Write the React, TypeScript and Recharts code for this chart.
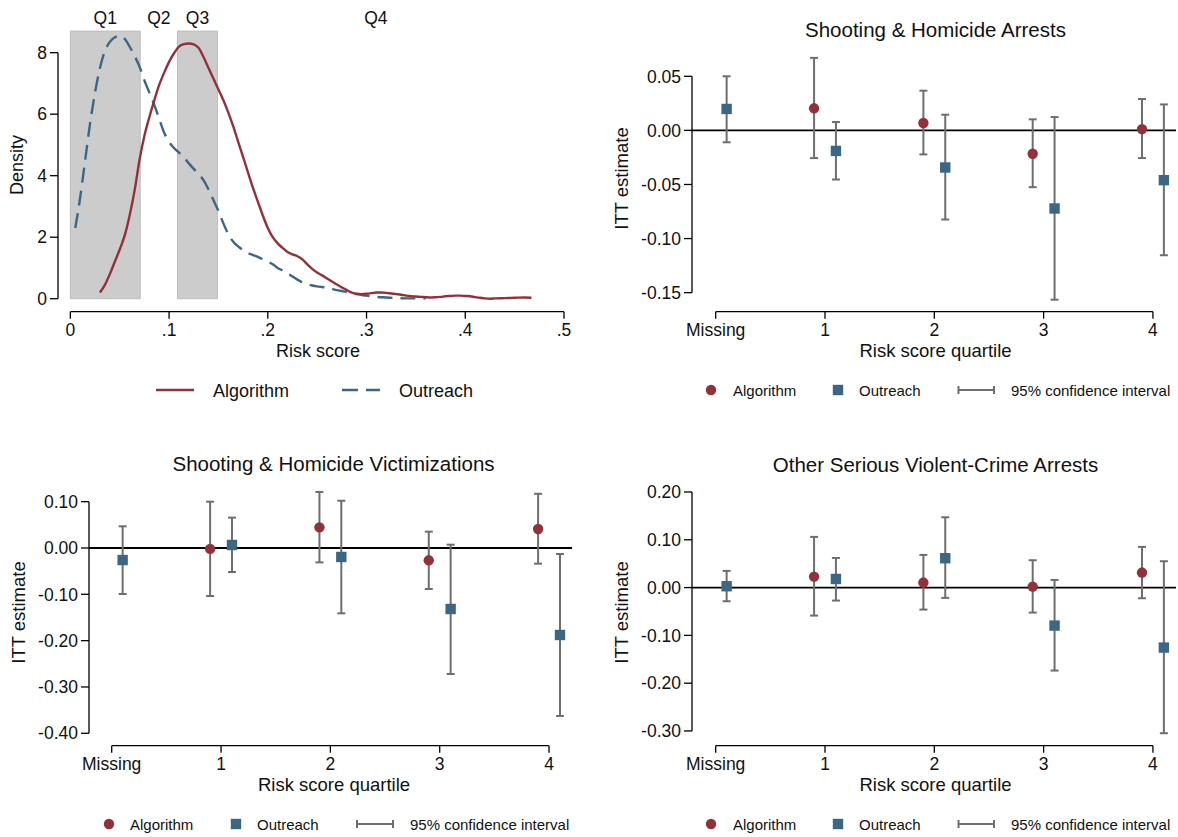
import React from 'react';
import {
  ScatterChart,
  Scatter,
  LineChart,
  Line,
  XAxis,
  YAxis,
  ErrorBar,
  ReferenceLine,
  ReferenceArea,
  Legend,
} from 'recharts';

const FONT = '"Liberation Sans", Arial, Helvetica, sans-serif';
const RED = '#93313A';
const BLUE = '#3B6784';
const CI_GRAY = '#6E6E6E';
const BAND_FILL = '#CCCCCC';
const BAND_STROKE = '#BDBDBD';
const INK = '#111111';

// ---------- Density panel data ----------
const algoRisk = [
  0.03, 0.035, 0.04, 0.045, 0.05, 0.055, 0.06, 0.065, 0.07, 0.075, 0.08, 0.085, 0.09, 0.095, 0.1,
  0.105, 0.11, 0.115, 0.12, 0.125, 0.13, 0.135, 0.14, 0.145, 0.15, 0.155, 0.16, 0.165, 0.17, 0.175,
  0.18, 0.185, 0.19, 0.195, 0.2, 0.205, 0.21, 0.215, 0.22, 0.225, 0.23, 0.235, 0.24, 0.245, 0.25,
  0.255, 0.26, 0.265, 0.27, 0.275, 0.28, 0.285, 0.29, 0.295, 0.3, 0.305, 0.31, 0.315, 0.32, 0.325,
  0.33, 0.335, 0.34, 0.345, 0.35, 0.355, 0.36, 0.365, 0.37, 0.375, 0.38, 0.385, 0.39, 0.395, 0.4,
  0.405, 0.41, 0.415, 0.42, 0.425, 0.43, 0.44, 0.45, 0.46, 0.467,
];
const algoDensity = [
  0.2, 0.45, 0.8, 1.2, 1.6, 2.05, 2.7, 3.5, 4.5, 5.3, 5.9, 6.45, 6.95, 7.35, 7.7,
  7.98, 8.2, 8.28, 8.3, 8.27, 8.15, 7.85, 7.5, 7.15, 6.8, 6.45, 6.05, 5.6, 5.1, 4.6,
  4.1, 3.6, 3.15, 2.7, 2.3, 2.0, 1.8, 1.65, 1.52, 1.44, 1.38, 1.28, 1.12, 0.97, 0.85,
  0.76, 0.66, 0.56, 0.46, 0.37, 0.28, 0.2, 0.16, 0.15, 0.16, 0.18, 0.2, 0.2, 0.19, 0.17,
  0.15, 0.13, 0.1, 0.08, 0.07, 0.06, 0.05, 0.04, 0.05, 0.06, 0.08, 0.09, 0.1, 0.1, 0.09,
  0.08, 0.05, 0.03, 0.01, 0.0, 0.01, 0.02, 0.03, 0.04, 0.03,
];
const outRisk = [
  0.005, 0.01, 0.015, 0.02, 0.025, 0.03, 0.035, 0.04, 0.045, 0.05, 0.055, 0.06, 0.065, 0.07, 0.075,
  0.08, 0.085, 0.09, 0.095, 0.1, 0.105, 0.11, 0.115, 0.12, 0.125, 0.13, 0.135, 0.14, 0.145, 0.15,
  0.155, 0.16, 0.165, 0.17, 0.175, 0.18, 0.185, 0.19, 0.195, 0.2, 0.205, 0.21, 0.215, 0.22, 0.225,
  0.23, 0.235, 0.24, 0.245, 0.25, 0.255, 0.26, 0.265, 0.27, 0.275, 0.28, 0.285, 0.29, 0.295, 0.3,
  0.31, 0.32, 0.33, 0.34, 0.35, 0.36,
];
const outDensity = [
  2.3, 3.3, 4.5, 5.7, 6.7, 7.5, 8.05, 8.35, 8.5, 8.55, 8.45, 8.2, 7.9, 7.55, 7.1,
  6.7, 6.3, 5.85, 5.4, 5.1, 4.9, 4.75, 4.6, 4.4, 4.22, 4.05, 3.85, 3.55, 3.2, 2.85,
  2.45, 2.1, 1.85, 1.7, 1.58, 1.48, 1.42, 1.36, 1.28, 1.2, 1.12, 1.0, 0.92, 0.83, 0.72,
  0.62, 0.53, 0.47, 0.43, 0.4, 0.38, 0.36, 0.32, 0.28, 0.25, 0.22, 0.18, 0.15, 0.12, 0.1,
  0.06, 0.04, 0.02, 0.01, 0.01, 0.01,
];
const riskTicks = [0, 0.1, 0.2, 0.3, 0.4, 0.5];
const riskTickLabels = ['0', '.1', '.2', '.3', '.4', '.5'];
const densityTicks = [0, 2, 4, 6, 8];
const quartileNames = ['Q1', 'Q2', 'Q3', 'Q4'];
const quartileEdges = [0, 0.0708, 0.1085, 0.149, 0.47];
const quartileShaded = [true, false, true, false];

// ---------- ITT panels data ----------
const categories = ['Missing', '1', '2', '3', '4'];

const arrestAlgoEst = [null, 0.0204, 0.0068, -0.0216, 0.0012];
const arrestAlgoLo = [null, -0.0256, -0.0222, -0.0525, -0.0256];
const arrestAlgoHi = [null, 0.067, 0.0367, 0.0102, 0.029];
const arrestOutEst = [0.0198, -0.019, -0.0343, -0.0722, -0.046];
const arrestOutLo = [-0.011, -0.0454, -0.0824, -0.1565, -0.1154];
const arrestOutHi = [0.05, 0.0077, 0.0145, 0.0123, 0.024];
const arrestTicks = [-0.15, -0.1, -0.05, 0, 0.05];

const victAlgoEst = [null, -0.002, 0.0446, -0.0266, 0.041];
const victAlgoLo = [null, -0.1036, -0.031, -0.0885, -0.0338];
const victAlgoHi = [null, 0.1, 0.121, 0.0353, 0.117];
const victOutEst = [-0.026, 0.0065, -0.0194, -0.1317, -0.1878];
const victOutLo = [-0.0993, -0.0518, -0.141, -0.272, -0.3626];
const victOutHi = [0.0468, 0.0655, 0.102, 0.0072, -0.013];
const victTicks = [-0.4, -0.3, -0.2, -0.1, 0, 0.1];

const otherAlgoEst = [null, 0.023, 0.0105, 0.002, 0.0314];
const otherAlgoLo = [null, -0.0586, -0.046, -0.0523, -0.0223];
const otherAlgoHi = [null, 0.106, 0.0683, 0.0572, 0.0851];
const otherOutEst = [0.0028, 0.018, 0.0614, -0.0795, -0.1255];
const otherOutLo = [-0.0286, -0.0272, -0.0216, -0.1736, -0.3047];
const otherOutHi = [0.0349, 0.062, 0.1471, 0.016, 0.0551];
const otherTicks = [-0.3, -0.2, -0.1, 0, 0.1, 0.2];

const SHIFT = 0.1;

function buildSeries(est: (number | null)[], lo: (number | null)[], hi: (number | null)[], shift: number) {
  const out: { x: number; y: number; err: [number, number] }[] = [];
  est.forEach((e, i) => {
    if (e == null) return;
    out.push({ x: i + shift, y: e, err: [e - (lo[i] as number), (hi[i] as number) - e] });
  });
  return out;
}

const CircleShape = (props: any) =>
  props.cx == null ? null : <circle cx={props.cx} cy={props.cy} r={5.2} fill={RED} />;
const SquareShape = (props: any) =>
  props.cx == null ? null : (
    <rect x={props.cx - 5.2} y={props.cy - 5.2} width={10.4} height={10.4} fill={BLUE} />
  );

type LegendPos = { circle: number; algoText: number; square: number; outText: number; ci1: number; ci2: number; ciText: number };

const IttLegend = ({ pos, width }: { pos: LegendPos; width: number }) => (
  <svg width={width} height={30} style={{ display: 'block', overflow: 'visible' }}>
    <circle cx={pos.circle} cy={15} r={5.2} fill={RED} />
    <text x={pos.algoText} y={21} fontSize={15} fontFamily={FONT} fill={INK}>Algorithm</text>
    <rect x={pos.square - 5.2} y={15 - 5.2} width={10.4} height={10.4} fill={BLUE} />
    <text x={pos.outText} y={21} fontSize={15} fontFamily={FONT} fill={INK}>Outreach</text>
    <line x1={pos.ci1} y1={15} x2={pos.ci2} y2={15} stroke={CI_GRAY} strokeWidth={2} />
    <line x1={pos.ci1} y1={11} x2={pos.ci1} y2={19} stroke={CI_GRAY} strokeWidth={2} />
    <line x1={pos.ci2} y1={11} x2={pos.ci2} y2={19} stroke={CI_GRAY} strokeWidth={2} />
    <text x={pos.ciText} y={21} fontSize={15} fontFamily={FONT} fill={INK}>95% confidence interval</text>
  </svg>
);

type IttProps = {
  left: number;
  top: number;
  width: number;
  height: number;
  plotLeft: number;
  plotRight: number;
  plotTop: number;
  plotBottom: number;
  xDomain: [number, number];
  yDomain: [number, number];
  yTicks: number[];
  title: string;
  titleX: number;
  titleY: number;
  yLabelX: number;
  yLabelY: number;
  xLabelX: number;
  xLabelY: number;
  legendTop: number;
  legendPos: LegendPos;
  algo: { x: number; y: number; err: [number, number] }[];
  outreach: { x: number; y: number; err: [number, number] }[];
};

const X_AXIS_H = 60;

function IttPanel(p: IttProps) {
  const yMin = p.yDomain[0];
  const xMin = p.xDomain[0];
  const yTop = p.yTicks[p.yTicks.length - 1];
  const yBot = p.yTicks[0];
  return (
    <div style={{ position: 'absolute', left: p.left, top: p.top, width: p.width, height: p.height }}>
      <ScatterChart
        width={p.width}
        height={p.height}
        margin={{
          top: p.plotTop,
          right: p.width - p.plotRight,
          bottom: p.height - p.plotBottom - X_AXIS_H,
          left: 0,
        }}
      >
        <XAxis
          type="number"
          dataKey="x"
          domain={p.xDomain}
          allowDataOverflow
          ticks={[0, 1, 2, 3, 4]}
          interval={0}
          tickFormatter={(v: number) => categories[Math.round(v)]}
          axisLine={false}
          tickLine={{ stroke: '#000', strokeWidth: 1.3 }}
          tickSize={7}
          tickMargin={5}
          height={X_AXIS_H}
          tick={{ fontSize: 17.5, fill: INK, fontFamily: FONT }}
          label={() => (
            <text x={p.xLabelX} y={p.xLabelY} textAnchor="middle" fontSize={18.5} fontFamily={FONT} fill={INK}>
              Risk score quartile
            </text>
          )}
        />
        <YAxis
          type="number"
          dataKey="y"
          domain={p.yDomain}
          allowDataOverflow
          ticks={p.yTicks}
          interval={0}
          tickFormatter={(v: number) => v.toFixed(2)}
          axisLine={false}
          tickLine={{ stroke: '#000', strokeWidth: 1.3 }}
          tickSize={8}
          tickMargin={3}
          width={p.plotLeft}
          tick={{ fontSize: 17.5, fill: INK, fontFamily: FONT }}
          label={() => (
            <g>
              <text
                transform={`translate(${p.yLabelX},${p.yLabelY}) rotate(-90)`}
                textAnchor="middle"
                fontSize={18.5}
                fontFamily={FONT}
                fill={INK}
              >
                ITT estimate
              </text>
              <text x={p.titleX} y={p.titleY} textAnchor="middle" fontSize={20.5} fontFamily={FONT} fill={INK}>
                {p.title}
              </text>
            </g>
          )}
        />
        <ReferenceLine
          segment={[{ x: xMin, y: yBot }, { x: xMin, y: yTop }]}
          stroke="#000"
          strokeWidth={1.3}
          ifOverflow="visible"
        />
        <ReferenceLine
          segment={[{ x: 0, y: yMin }, { x: 4, y: yMin }]}
          stroke="#000"
          strokeWidth={1.3}
          ifOverflow="visible"
        />
        <ReferenceLine y={0} stroke="#000" strokeWidth={1.8} ifOverflow="visible" />
        <Scatter name="Algorithm" data={p.algo} shape={CircleShape} isAnimationActive={false}>
          <ErrorBar dataKey="err" direction="y" width={4} stroke={CI_GRAY} strokeWidth={2} isAnimationActive={false} />
        </Scatter>
        <Scatter name="Outreach" data={p.outreach} shape={SquareShape} isAnimationActive={false}>
          <ErrorBar dataKey="err" direction="y" width={4} stroke={CI_GRAY} strokeWidth={2} isAnimationActive={false} />
        </Scatter>
        <Legend
          layout="horizontal"
          verticalAlign="middle"
          align="center"
          wrapperStyle={{ left: 0, top: p.legendTop, width: p.width, height: 30, margin: 0, padding: 0 }}
          content={() => <IttLegend pos={p.legendPos} width={p.width} />}
        />
      </ScatterChart>
    </div>
  );
}

const QuartileLabel = (text: string) => (props: any) => {
  const vb = props.viewBox || {};
  const cx = (vb.x ?? 0) + (vb.width ?? 0) / 2;
  const y = (vb.y ?? 0) - 7.5;
  return (
    <text x={cx} y={y} textAnchor="middle" fontSize={17.5} fontFamily={FONT} fill={INK}>
      {text}
    </text>
  );
};

function DensityPanel() {
  const W = 590;
  const H = 410;
  const plotLeft = 58;
  const plotRight = 564;
  const plotTop = 31;
  const plotBottom = 311.7;
  const xDomain: [number, number] = [-0.0125, 0.5];
  const yDomain: [number, number] = [-0.422, 8.704];
  const algoData = algoRisk.map((r, i) => ({ x: r, d: algoDensity[i] }));
  const outData = outRisk.map((r, i) => ({ x: r, d: outDensity[i] }));
  return (
    <div style={{ position: 'absolute', left: 0, top: 0, width: W, height: H }}>
      <LineChart
        width={W}
        height={H}
        margin={{ top: plotTop, right: W - plotRight, bottom: H - plotBottom - X_AXIS_H, left: 0 }}
      >
        <XAxis
          type="number"
          dataKey="x"
          domain={xDomain}
          allowDataOverflow
          ticks={riskTicks}
          interval={0}
          tickFormatter={(v: number) => riskTickLabels[Math.round(v * 10)]}
          axisLine={false}
          tickLine={{ stroke: '#000', strokeWidth: 1.3 }}
          tickSize={7}
          tickMargin={5}
          height={X_AXIS_H}
          tick={{ fontSize: 17.5, fill: INK, fontFamily: FONT }}
          label={() => (
            <text x={318} y={357.3} textAnchor="middle" fontSize={18} fontFamily={FONT} fill={INK}>
              Risk score
            </text>
          )}
        />
        <YAxis
          type="number"
          domain={yDomain}
          allowDataOverflow
          ticks={densityTicks}
          interval={0}
          axisLine={false}
          tickLine={{ stroke: '#000', strokeWidth: 1.3 }}
          tickSize={8}
          tickMargin={3}
          width={plotLeft}
          tick={{ fontSize: 17.5, fill: INK, fontFamily: FONT }}
          label={() => (
            <text
              transform="translate(22.5,165) rotate(-90)"
              textAnchor="middle"
              fontSize={18}
              fontFamily={FONT}
              fill={INK}
            >
              Density
            </text>
          )}
        />
        {quartileNames.map((q, i) => (
          <ReferenceArea
            key={q}
            x1={quartileEdges[i]}
            x2={quartileEdges[i + 1]}
            y1={0}
            y2={8.7}
            fill={quartileShaded[i] ? BAND_FILL : 'none'}
            fillOpacity={quartileShaded[i] ? 1 : 0}
            stroke={quartileShaded[i] ? BAND_STROKE : 'none'}
            strokeWidth={1}
            ifOverflow="visible"
            label={QuartileLabel(q)}
          />
        ))}
        <ReferenceLine
          segment={[{ x: xDomain[0], y: 0 }, { x: xDomain[0], y: 8 }]}
          stroke="#000"
          strokeWidth={1.3}
          ifOverflow="visible"
        />
        <ReferenceLine
          segment={[{ x: 0, y: yDomain[0] }, { x: 0.5, y: yDomain[0] }]}
          stroke="#000"
          strokeWidth={1.3}
          ifOverflow="visible"
        />
        <Line
          name="Outreach"
          data={outData}
          dataKey="d"
          type="monotone"
          stroke={BLUE}
          strokeWidth={2.4}
          strokeDasharray="15 8"
          dot={false}
          activeDot={false}
          isAnimationActive={false}
        />
        <Line
          name="Algorithm"
          data={algoData}
          dataKey="d"
          type="monotone"
          stroke={RED}
          strokeWidth={2.4}
          dot={false}
          activeDot={false}
          isAnimationActive={false}
        />
        <Legend
          layout="horizontal"
          verticalAlign="middle"
          align="center"
          wrapperStyle={{ left: 0, top: 375, width: W, height: 30, margin: 0, padding: 0 }}
          content={() => (
            <svg width={W} height={30} style={{ display: 'block', overflow: 'visible' }}>
              <line x1={156} y1={15} x2={194} y2={15} stroke={RED} strokeWidth={2.7} />
              <text x={213} y={21.7} fontSize={18} fontFamily={FONT} fill={INK}>Algorithm</text>
              <line x1={342} y1={15} x2={380} y2={15} stroke={BLUE} strokeWidth={2.7} strokeDasharray="16 8" />
              <text x={399} y={21.7} fontSize={18} fontFamily={FONT} fill={INK}>Outreach</text>
            </svg>
          )}
        />
      </LineChart>
    </div>
  );
}

const legendRight: LegendPos = { circle: 111, algoText: 133, square: 238, outText: 259, ci1: 358.5, ci2: 394, ciText: 411 };
const legendLeft: LegendPos = { circle: 109, algoText: 130, square: 236, outText: 257, ci1: 357, ci2: 393, ciText: 410 };

export default function App() {
  return (
    <div
      style={{
        position: 'absolute',
        left: 0,
        top: 0,
        width: 1178,
        height: 837,
        background: '#ffffff',
        fontFamily: FONT,
        overflow: 'hidden',
      }}
    >
      <DensityPanel />
      <IttPanel
        left={600}
        top={0}
        width={578}
        height={410}
        plotLeft={92}
        plotRight={576}
        plotTop={50}
        plotBottom={311.7}
        xDomain={[-0.2168, 4.211]}
        yDomain={[-0.1676, 0.0743]}
        yTicks={arrestTicks}
        title="Shooting & Homicide Arrests"
        titleX={335.5}
        titleY={37.3}
        yLabelX={28}
        yLabelY={178.5}
        xLabelX={335.5}
        xLabelY={357}
        legendTop={375}
        legendPos={legendRight}
        algo={buildSeries(arrestAlgoEst, arrestAlgoLo, arrestAlgoHi, -SHIFT)}
        outreach={buildSeries(arrestOutEst, arrestOutLo, arrestOutHi, SHIFT)}
      />
      <IttPanel
        left={0}
        top={420}
        width={590}
        height={417}
        plotLeft={89}
        plotRight={572}
        plotTop={65}
        plotBottom={325.7}
        xDomain={[-0.2077, 4.21]}
        yDomain={[-0.4268, 0.136]}
        yTicks={victTicks}
        title="Shooting & Homicide Victimizations"
        titleX={333.5}
        titleY={51}
        yLabelX={24.5}
        yLabelY={192.5}
        xLabelX={334}
        xLabelY={370.7}
        legendTop={389}
        legendPos={legendLeft}
        algo={buildSeries(victAlgoEst, victAlgoLo, victAlgoHi, -SHIFT)}
        outreach={buildSeries(victOutEst, victOutLo, victOutHi, SHIFT)}
      />
      <IttPanel
        left={600}
        top={420}
        width={578}
        height={417}
        plotLeft={92}
        plotRight={576}
        plotTop={65}
        plotBottom={325.7}
        xDomain={[-0.2168, 4.211]}
        yDomain={[-0.3308, 0.2146]}
        yTicks={otherTicks}
        title="Other Serious Violent-Crime Arrests"
        titleX={335.5}
        titleY={51.7}
        yLabelX={28}
        yLabelY={192.5}
        xLabelX={335.5}
        xLabelY={370.7}
        legendTop={389}
        legendPos={legendRight}
        algo={buildSeries(otherAlgoEst, otherAlgoLo, otherAlgoHi, -SHIFT)}
        outreach={buildSeries(otherOutEst, otherOutLo, otherOutHi, SHIFT)}
      />
    </div>
  );
}
